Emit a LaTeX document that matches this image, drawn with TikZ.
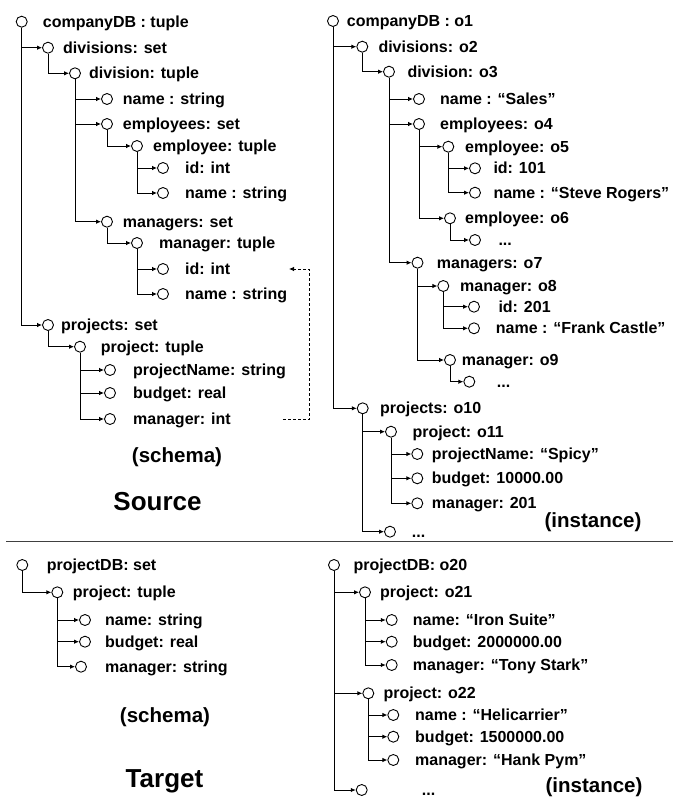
\documentclass[tikz,border=0pt]{standalone}
\usepackage{fontspec}
\setmainfont{Liberation Sans}
\usetikzlibrary{arrows.meta}
\tikzset{
  dot/.style={circle,draw,line width=0.9pt,minimum size=11pt,inner sep=0pt},
  lbl/.style={anchor=base west,inner sep=0pt,font=\fontsize{16}{19}\selectfont\bfseries},
  edge/.style={line width=0.9pt,-{Latex[length=5pt,width=4.5pt]}},
  dline/.style={line width=0.8pt,dash pattern=on 3pt off 2pt,-{Latex[length=5pt,width=4.5pt]}},
  captxt/.style={inner sep=0pt,font=\fontsize{20.5}{24}\selectfont\bfseries},
  bigtxt/.style={inner sep=0pt,font=\fontsize{26}{30}\selectfont\bfseries},
  sepline/.style={line width=1.2pt,black!75}
}
\newcommand\tnode[5]{\node[dot] (#1) at (#2,#3) {}; \node[lbl] (#1t) at (#4,#3+5.6) {#5};}
\begin{document}
\begin{tikzpicture}[x=1pt,y=-1pt]
\useasboundingbox (0,0) rectangle (673,798);
% ---------- Source schema ----------
\tnode{s1}{21.7}{21.7}{42.7}{companyDB : tuple}
\tnode{s2}{48}{47.7}{63}{divisions: set}
\tnode{s3}{75}{73.3}{89}{division: tuple}
\tnode{s4}{107}{99}{122.7}{name : string}
\tnode{s5}{107}{124}{122.7}{employees: set}
\tnode{s6}{137}{146}{153}{employee: tuple}
\tnode{s7}{163}{168}{185}{id: int}
\tnode{s8}{163}{193}{185}{name : string}
\tnode{s9}{107}{221.7}{122.7}{managers: set}
\tnode{s10}{137}{243}{159}{manager: tuple}
\tnode{s11}{163}{269}{185}{id: int}
\tnode{s12}{163}{294}{185}{name : string}
\tnode{s13}{48}{325}{61}{projects: set}
\tnode{s14}{80}{346.7}{100.7}{project: tuple}
\tnode{s15}{110}{370}{133}{projectName: string}
\tnode{s16}{110}{393}{133}{budget: real}
\tnode{s17}{110}{419}{133}{manager: int}
\foreach \a/\b in {s1/s2,s1/s13,s2/s3,s3/s4,s3/s5,s3/s9,s5/s6,s6/s7,s6/s8,s9/s10,s10/s11,s10/s12,s13/s14,s14/s15,s14/s16,s14/s17}
  \draw[edge] (\a.south) |- (\b.west);
\coordinate (dA) at (283,419);
\coordinate (dB) at (289,269);
\draw[dline] (dA) -- ++(26.5,0) |- (dB);
\node[captxt] (sch1) at (177,456.7) {(schema)};
\node[bigtxt] (src) at (157.5,501.7) {Source};
% ---------- Source instance ----------
\tnode{i1}{333}{21}{346.7}{companyDB : o1}
\tnode{i2}{362.3}{46.7}{378.3}{divisions: o2}
\tnode{i3}{389}{71.7}{407.3}{division: o3}
\tnode{i4}{419}{99}{440}{name : “Sales”}
\tnode{i5}{419}{124}{440}{employees: o4}
\tnode{i6}{448.3}{146.7}{465}{employee: o5}
\tnode{i7}{475}{168.3}{493.3}{id: 101}
\tnode{i8}{475}{192.7}{493.3}{name : “Steve Rogers”}
\tnode{i9}{450}{218.3}{465}{employee: o6}
\tnode{i10}{475}{240}{498.3}{...}
\tnode{i11}{417.5}{262.7}{436.7}{managers: o7}
\tnode{i12}{443.3}{286}{460}{manager: o8}
\tnode{i13}{474}{306.7}{498.3}{id: 201}
\tnode{i14}{474}{328.3}{495.7}{name : “Frank Castle”}
\tnode{i15}{450}{360}{461.7}{manager: o9}
\tnode{i16}{469.3}{381.7}{496.7}{...}
\tnode{i17}{362.7}{408.3}{380}{projects: o10}
\tnode{i18}{391}{431.7}{412.3}{project: o11}
\tnode{i19}{417.3}{454}{431.7}{projectName: “Spicy”}
\tnode{i20}{417.3}{478.3}{431.7}{budget: 10000.00}
\tnode{i21}{417.3}{503.3}{431.7}{manager: 201}
\tnode{i22}{390}{531.7}{411.7}{...}
\foreach \a/\b in {i1/i2,i1/i17,i2/i3,i3/i4,i3/i5,i3/i11,i5/i6,i5/i9,i6/i7,i6/i8,i9/i10,i11/i12,i11/i15,i12/i13,i12/i14,i15/i16,i17/i18,i17/i22,i18/i19,i18/i20,i18/i21}
  \draw[edge] (\a.south) |- (\b.west);
\node[captxt] (ins1) at (593,521.7) {(instance)};
% ---------- separator ----------
\coordinate (sepL) at (6,541.7);
\coordinate (sepR) at (673,541.7);
\draw[sepline] (sepL) -- (sepR);
% ---------- Target schema ----------
\tnode{t1}{22.3}{565}{46.7}{projectDB: set}
\tnode{t2}{57.3}{592.3}{72.7}{project: tuple}
\tnode{t3}{85}{620}{105}{name: string}
\tnode{t4}{85}{641.7}{105}{budget: real}
\tnode{t5}{81}{666.7}{105}{manager: string}
\foreach \a/\b in {t1/t2,t2/t3,t2/t4,t2/t5}
  \draw[edge] (\a.south) |- (\b.west);
\node[captxt] (sch2) at (165,716.7) {(schema)};
\node[bigtxt] (tgt) at (164.5,781.7) {Target};
% ---------- Target instance ----------
\tnode{u1}{334}{565}{353.3}{projectDB: o20}
\tnode{u2}{365}{592.3}{380}{project: o21}
\tnode{u3}{391.7}{620}{412.7}{name: “Iron Suite”}
\tnode{u4}{391.7}{641.7}{412.7}{budget: 2000000.00}
\tnode{u5}{391.7}{665}{412.7}{manager: “Tony Stark”}
\tnode{u6}{368.3}{693.3}{383.3}{project: o22}
\tnode{u7}{393.3}{715}{415}{name : “Helicarrier”}
\tnode{u8}{393.3}{736.7}{415}{budget: 1500000.00}
\tnode{u9}{393.3}{760}{415}{manager: “Hank Pym”}
\tnode{u10}{361.7}{790}{421.7}{...}
\foreach \a/\b in {u1/u2,u1/u6,u1/u10,u2/u3,u2/u4,u2/u5,u6/u7,u6/u8,u6/u9}
  \draw[edge] (\a.south) |- (\b.west);
\node[captxt] (ins2) at (594,786.7) {(instance)};
\end{tikzpicture}
\end{document}
